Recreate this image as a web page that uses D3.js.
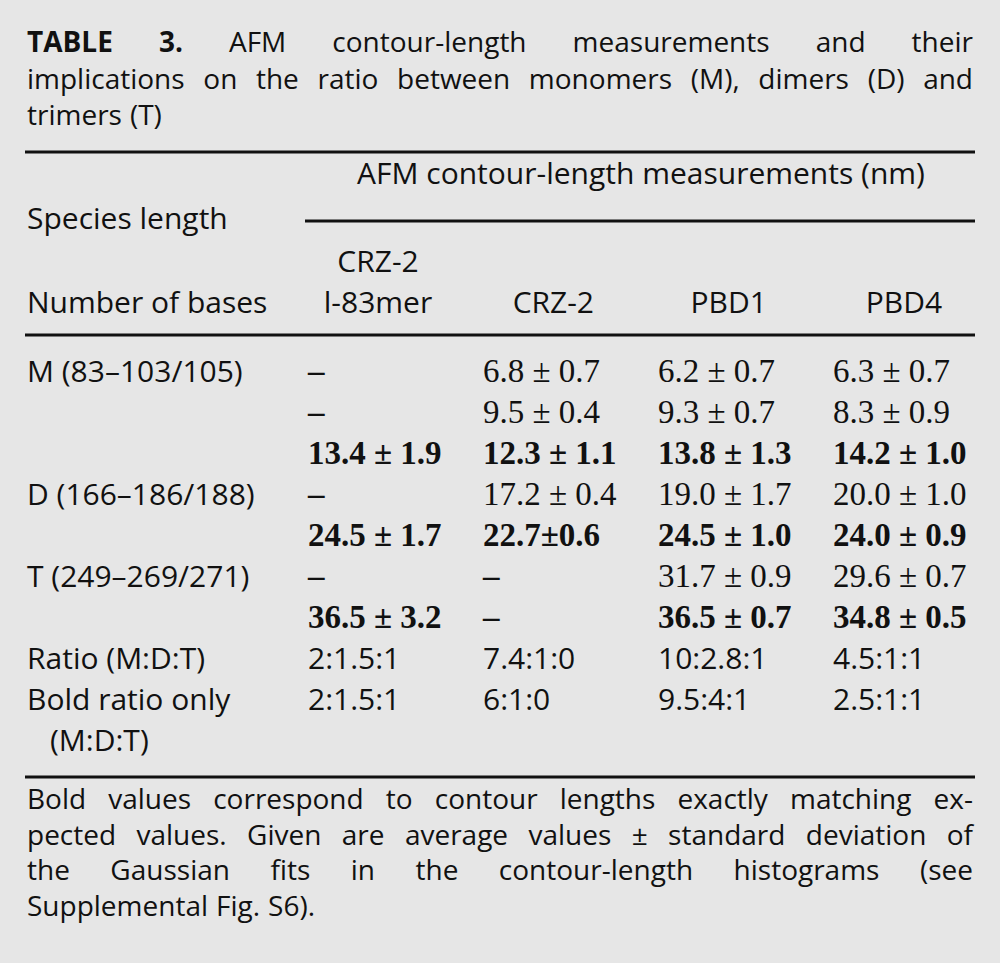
<!DOCTYPE html>
<html>
<head>
<meta charset="utf-8">
<script src="https://cdn.jsdelivr.net/npm/d3@7"></script>
<style>
  body { margin: 0; background: #e6e6e6; }
  text { fill: #111; }
  .sans { font-family: "Open Sans", "DejaVu Sans", sans-serif; font-size: 30px; }
  .note { font-size: 28px; }
  .serif { font-family: "Liberation Serif", "DejaVu Serif", serif; font-size: 33px; }
</style>
</head>
<body>
<div id="canvas"></div>
<script>
// table content
const titleLines = [
    [["TABLE", true], ["3.", true], ["AFM", false], ["contour-length", false], ["measurements", false], ["and", false], ["their", false]],
    [["implications", false], ["on", false], ["the", false], ["ratio", false], ["between", false], ["monomers", false], ["(M),", false], ["dimers", false], ["(D)", false], ["and", false]],
    [["trimers", false], ["(T)", false]]
];
const spanHeader = "AFM contour-length measurements (nm)";
const columnHeaders = [["CRZ-2", "l-83mer"], ["CRZ-2"], ["PBD1"], ["PBD4"]];
const rowLabels = ["M (83–103/105)", "", "", "D (166–186/188)", "", "T (249–269/271)", "", "Ratio (M:D:T)", "Bold ratio only", "(M:D:T)"];
const boldRows = [false, false, true, false, true, false, true, false, false, false];
const ratioRows = [7, 8];
const cells = [
    ["–", "6.8 ± 0.7", "6.2 ± 0.7", "6.3 ± 0.7"],
    ["–", "9.5 ± 0.4", "9.3 ± 0.7", "8.3 ± 0.9"],
    ["13.4 ± 1.9", "12.3 ± 1.1", "13.8 ± 1.3", "14.2 ± 1.0"],
    ["–", "17.2 ± 0.4", "19.0 ± 1.7", "20.0 ± 1.0"],
    ["24.5 ± 1.7", "22.7±0.6", "24.5 ± 1.0", "24.0 ± 0.9"],
    ["–", "–", "31.7 ± 0.9", "29.6 ± 0.7"],
    ["36.5 ± 3.2", "–", "36.5 ± 0.7", "34.8 ± 0.5"],
    ["2:1.5:1", "7.4:1:0", "10:2.8:1", "4.5:1:1"],
    ["2:1.5:1", "6:1:0", "9.5:4:1", "2.5:1:1"],
    ["", "", "", ""]
];
const footnoteLines = [
    "Bold values correspond to contour lengths exactly matching ex-",
    "pected values. Given are average values ± standard deviation of",
    "the Gaussian fits in the contour-length histograms (see",
    "Supplemental Fig. S6)."
];

// canvas
const width = 1000, height = 963;
const left = 27, right = 973;

const svg = d3.select("#canvas")
    .append("svg")
    .attr("width", width)
    .attr("height", height);

svg.append("rect")
    .attr("width", width)
    .attr("height", height)
    .attr("fill", "#e6e6e6");

// scales
const titleY = d3.scaleLinear().domain([0, 2]).range([52, 125]);
const rowY = d3.scaleLinear().domain([0, rowLabels.length - 1]).range([382, 751]);
const colX = d3.scaleLinear().domain([0, 3]).range([308, 833]);
const colCenter = d3.scaleLinear().domain([0, 3]).range([378, 904]);
const noteY = d3.scaleLinear().domain([0, 3]).range([809, 916]);

// justified line of words
function drawLine(words, y, justify, cls) {
    const g = svg.append("g");
    const nodes = words.map(w => g.append("text")
        .attr("class", cls)
        .attr("y", y)
        .attr("font-weight", w[1] ? "bold" : "normal")
        .text(w[0]));
    const widths = nodes.map(n => n.node().getComputedTextLength());
    const total = d3.sum(widths);
    const gap = justify ? (right - left - total) / (words.length - 1) : 8;
    let x = left;
    nodes.forEach((n, i) => {
        n.attr("x", x);
        x += widths[i] + gap;
    });
}

// title
titleLines.forEach((line, i) => drawLine(line, titleY(i), i < titleLines.length - 1, "sans note"));

// rules
const rules = [
    {x1: 25, x2: 975, y: 152},
    {x1: 305, x2: 975, y: 221},
    {x1: 25, x2: 975, y: 335},
    {x1: 25, x2: 975, y: 777}
];
svg.selectAll(".rule")
    .data(rules)
    .join("line")
    .attr("class", "rule")
    .attr("x1", d => d.x1)
    .attr("x2", d => d.x2)
    .attr("y1", d => d.y)
    .attr("y2", d => d.y)
    .attr("stroke", "#111")
    .attr("stroke-width", 3);

// header
svg.append("text")
    .attr("class", "sans")
    .attr("x", 641)
    .attr("y", 184)
    .attr("text-anchor", "middle")
    .text(spanHeader);

svg.append("text")
    .attr("class", "sans")
    .attr("x", left)
    .attr("y", 229)
    .text("Species length");

svg.append("text")
    .attr("class", "sans")
    .attr("x", left)
    .attr("y", 313)
    .text("Number of bases");

columnHeaders.forEach((lines, i) => {
    lines.forEach((t, j) => {
        svg.append("text")
            .attr("class", "sans")
            .attr("x", colCenter(i))
            .attr("y", 313 - (lines.length - 1 - j) * 41)
            .attr("text-anchor", "middle")
            .text(t);
    });
});

// row labels
svg.selectAll(".rowLabel")
    .data(rowLabels)
    .join("text")
    .attr("class", "sans rowLabel")
    .attr("x", (d, i) => i === 9 ? left + 23 : left)
    .attr("y", (d, i) => rowY(i))
    .text(d => d);

// cells
cells.forEach((row, r) => {
    row.forEach((v, c) => {
        const isRatio = ratioRows.includes(r);
        svg.append("text")
            .attr("class", isRatio ? "sans" : "serif")
            .attr("x", colX(c))
            .attr("y", rowY(r))
            .attr("font-weight", (boldRows[r] || v === "–") ? "bold" : "normal")
            .text(v);
    });
});

// footnote
footnoteLines.forEach((line, i) => {
    const words = line.split(" ").map(w => [w, false]);
    drawLine(words, noteY(i), i < footnoteLines.length - 1, "sans note");
});
</script>
</body>
</html>
